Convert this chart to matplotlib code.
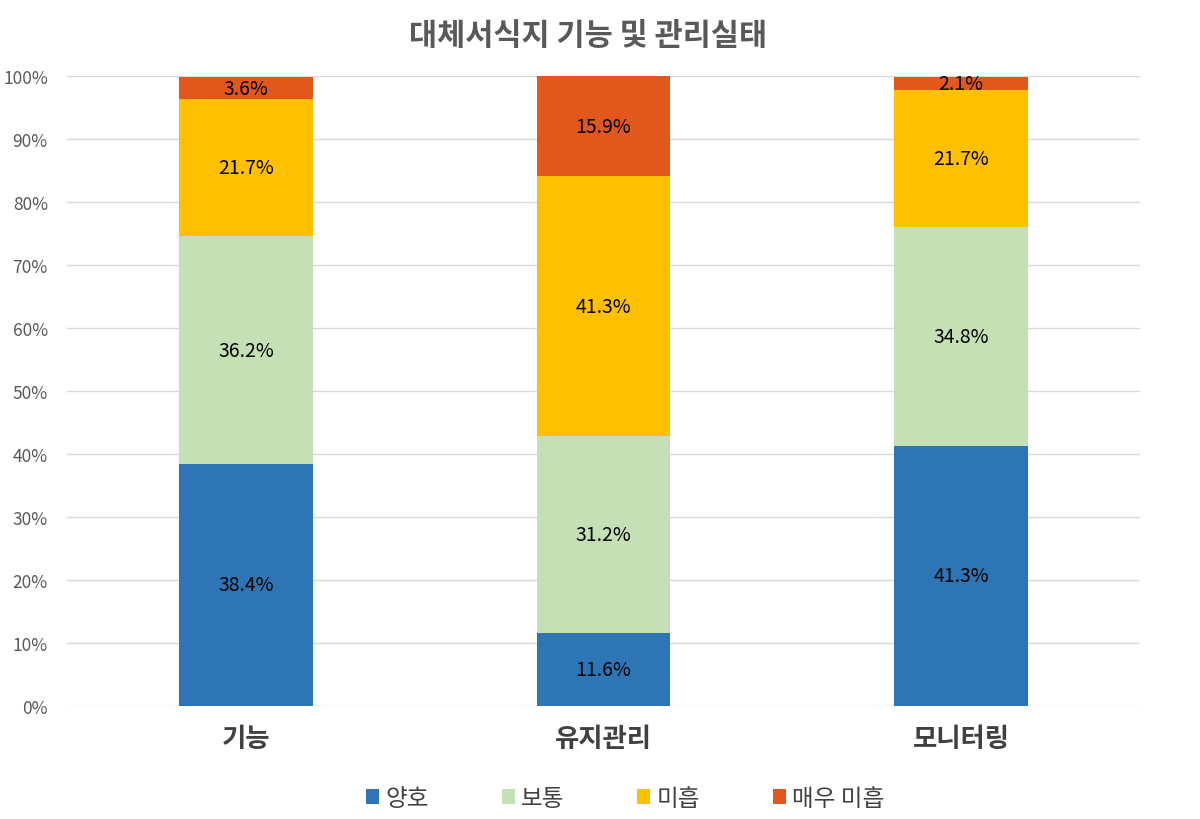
import numpy as np
import matplotlib
matplotlib.use("Agg")
import matplotlib.pyplot as plt
from matplotlib.ticker import PercentFormatter

plt.rcParams["font.family"] = ["Noto Sans CJK KR", "DejaVu Sans"]

# ---------------------------------------------------------------------------
# Data
# ---------------------------------------------------------------------------
categories = ["기능", "유지관리", "모니터링"]
series_names = ["양호", "보통", "미흡", "매우 미흡"]
good = [38.4, 11.6, 41.3]
normal = [36.2, 31.2, 34.8]
poor = [21.7, 41.3, 21.7]
very_poor = [3.6, 15.9, 2.1]
colors = ["#2E75B6", "#C5E0B4", "#FFC000", "#E2571C"]

# ---------------------------------------------------------------------------
# Plot
# ---------------------------------------------------------------------------
fig = plt.figure(figsize=(12, 8.2), dpi=100)
ax = fig.add_axes([0.056, 0.138, 0.894, 0.768])

x = np.arange(len(categories))
bottom = np.zeros(len(categories))
for name, vals, col in zip(series_names, [good, normal, poor, very_poor], colors):
    vals = np.array(vals)
    ax.bar(x, vals, width=0.374, bottom=bottom, color=col, label=name, zorder=3)
    for xi, b, v in zip(x, bottom, vals):
        ax.text(xi, b + v / 2, f"{v:.1f}%", ha="center", va="center",
                fontsize=14, color="black", zorder=4)
    bottom += vals

ax.set_xlim(-0.5, 2.5)
ax.set_ylim(0, 100)
ax.set_yticks(np.arange(0, 101, 10))
ax.yaxis.set_major_formatter(PercentFormatter(decimals=0))
ax.grid(axis="y", color="#D9D9D9", linewidth=1, zorder=0)
for s in ax.spines.values():
    s.set_visible(False)
ax.tick_params(axis="y", length=0, labelsize=12.5, labelcolor="#595959", pad=14)
ax.tick_params(axis="x", length=0, pad=14)
ax.set_xticks(x)
ax.set_xticklabels(categories, fontsize=19, fontweight="bold", color="#404040")

fig.suptitle("대체서식지 기능 및 관리실태", fontsize=22, fontweight="bold",
             color="#595959", x=0.49, y=0.975)

ax.legend(loc="upper center", bbox_to_anchor=(0.52, -0.095), ncol=4,
          frameon=False, fontsize=17, handlelength=0.55, handleheight=0.55,
          handletextpad=0.25, columnspacing=3.1, labelcolor="#404040")

fig.savefig("out.png", dpi=100)
plt.close("all")
